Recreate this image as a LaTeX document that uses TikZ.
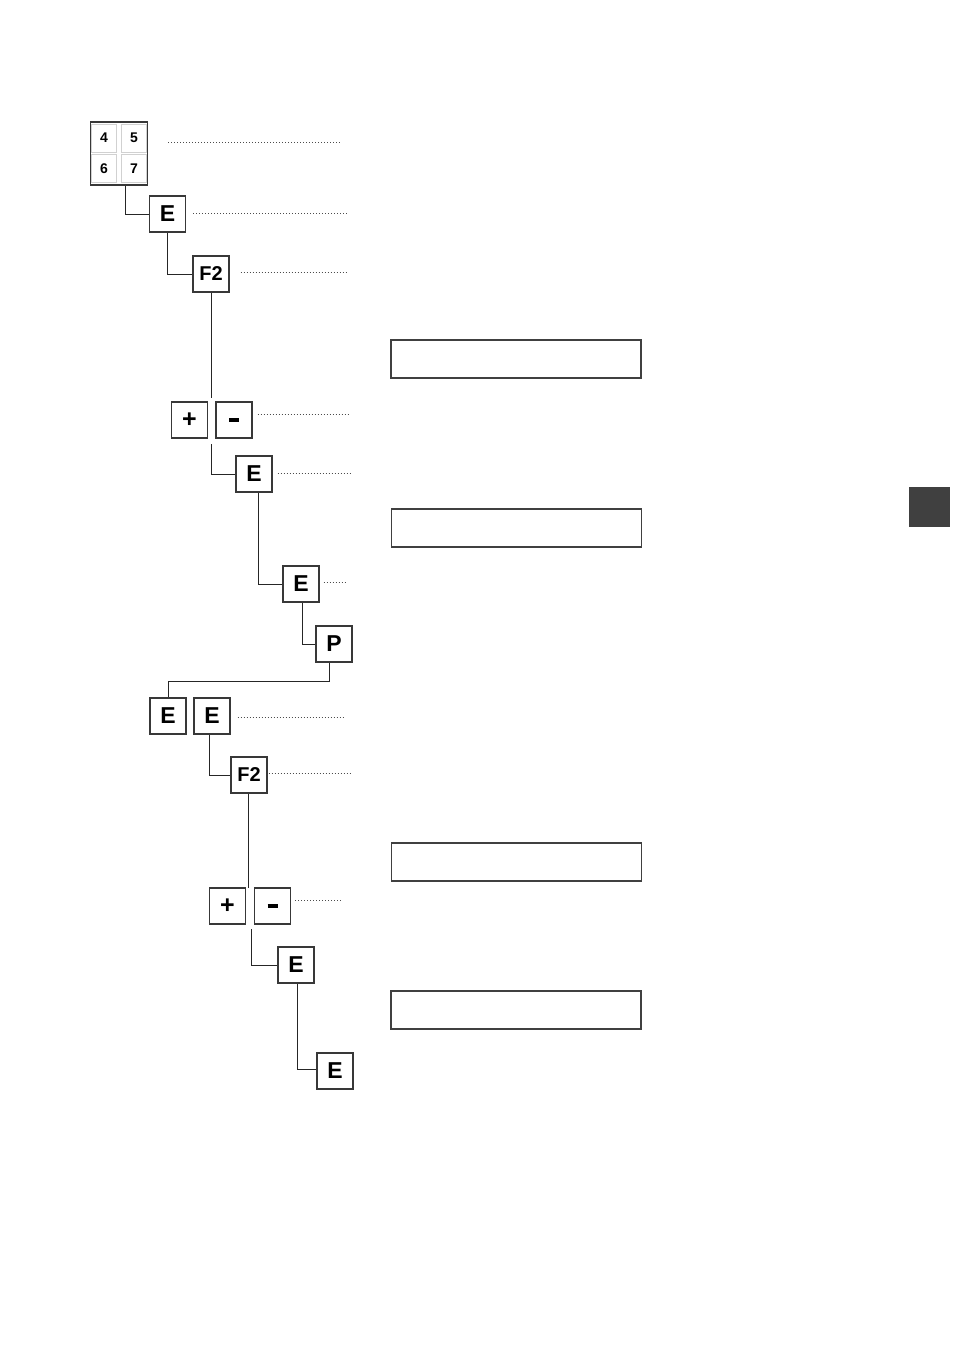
\documentclass[tikz,border=0pt]{standalone}
\usepackage{fontspec}
\setmainfont{Liberation Sans}
\begin{document}
\begin{tikzpicture}[x=1pt,y=-1pt,
  key/.style={draw=black!78,line width=1.1pt,fill=white,minimum size=36pt,inner sep=0pt,
    font=\bfseries\fontsize{23}{23}\selectfont},
  fkey/.style={key,font=\bfseries\fontsize{20}{20}\selectfont},
  pmkey/.style={key,font=\bfseries\fontsize{25}{25}\selectfont},
  numkey/.style={draw=black!18,line width=0.8pt,minimum width=25pt,minimum height=28pt,inner sep=0pt,
    font=\bfseries\fontsize{14}{14}\selectfont},
  conn/.style={draw=black!85,line width=1pt},
  dotline/.style={draw=black!70,line width=0.7pt,dash pattern=on 0.7pt off 2.3pt},
  disp/.style={draw=black!75,line width=1.1pt,minimum width=250pt,minimum height=38pt,inner sep=0pt}
]
\useasboundingbox (0,0) rectangle (954,1350);

% keypad
\node[numkey] (k4) at (104,138) {4};
\node[numkey] (k5) at (134,138) {5};
\node[numkey] (k6) at (104,168.5) {6};
\node[numkey] (k7) at (134,168.5) {7};
\node[draw=black!78,line width=1.1pt,minimum width=57pt,minimum height=63pt,inner sep=0pt] (kp) at (119,153.5) {};

% keys
\node[key] (E1) at (167.5,214) {E};
\node[fkey] (F2a) at (211,274) {F2};
\node[pmkey] (plusA) at (189.5,420) {\raisebox{-1pt}{+}};
\node[key] (minusA) at (234,420) {\raisebox{0.5pt}{\rule{10pt}{3.5pt}}};
\node[key] (E2) at (254,474) {E};
\node[key] (E3) at (301,584) {E};
\node[key] (P) at (334,644) {P};
\node[key] (E4) at (168,716) {E};
\node[key] (E5) at (212,716) {E};
\node[fkey] (F2b) at (249,775) {F2};
\node[pmkey] (plusB) at (227.5,906) {\raisebox{-1pt}{+}};
\node[key] (minusB) at (272.5,906) {\raisebox{0.5pt}{\rule{10pt}{3.5pt}}};
\node[key] (E6) at (296,965) {E};
\node[key] (E7) at (335,1071) {E};

% displays
\node[disp] (disp1) at (516,359) {};
\node[disp] (disp2) at (516.5,528) {};
\node[disp] (disp3) at (516.5,862) {};
\node[disp] (disp4) at (516,1010) {};

% side tab
\fill[black!75] (909,487) rectangle (950,527);

% connectors
\coordinate (c1) at (211,398);
\coordinate (c2) at (211,444);
\coordinate (c3) at (248,888);
\coordinate (c4) at (251,929);
\draw[conn] ([xshift=6pt]kp.south) |- (E1.west);
\draw[conn] (E1.south) |- (F2a.west);
\draw[conn] (F2a.south) -- (c1);
\draw[conn] (c2) |- (E2.west);
\draw[conn] ([xshift=4pt]E2.south) |- (E3.west);
\draw[conn] ([xshift=1pt]E3.south) |- (P.west);
\draw[conn] ([xshift=-5pt]P.south) -- ++(0,19) -| (E4.north);
\draw[conn] ([xshift=-3pt]E5.south) |- (F2b.west);
\draw[conn] ([xshift=-1pt]F2b.south) -- (c3);
\draw[conn] (c4) |- (E6.west);
\draw[conn] ([xshift=1pt]E6.south) |- ([yshift=2pt]E7.west);

% leader lines
\coordinate (d0) at (342,142);
\coordinate (d1) at (347,213);
\coordinate (d2) at (347,272);
\coordinate (d3) at (350,414);
\coordinate (d4) at (350,473);
\coordinate (d5) at (345,582);
\coordinate (d6) at (345,717);
\coordinate (d7) at (350,773);
\coordinate (d8) at (343,900);
\draw[dotline] ([xshift=20pt]kp.east |- d0) -- (d0);
\draw[dotline] ([xshift=7pt]E1.east |- d1) -- (d1);
\draw[dotline] ([xshift=11pt]F2a.east |- d2) -- (d2);
\draw[dotline] ([xshift=5pt]minusA.east |- d3) -- (d3);
\draw[dotline] ([xshift=5pt]E2.east |- d4) -- (d4);
\draw[dotline] ([xshift=4pt]E3.east |- d5) -- (d5);
\draw[dotline] ([xshift=7pt]E5.east |- d6) -- (d6);
\draw[dotline] ([xshift=1pt]F2b.east |- d7) -- (d7);
\draw[dotline] ([xshift=4pt]minusB.east |- d8) -- (d8);
\end{tikzpicture}
\end{document}
